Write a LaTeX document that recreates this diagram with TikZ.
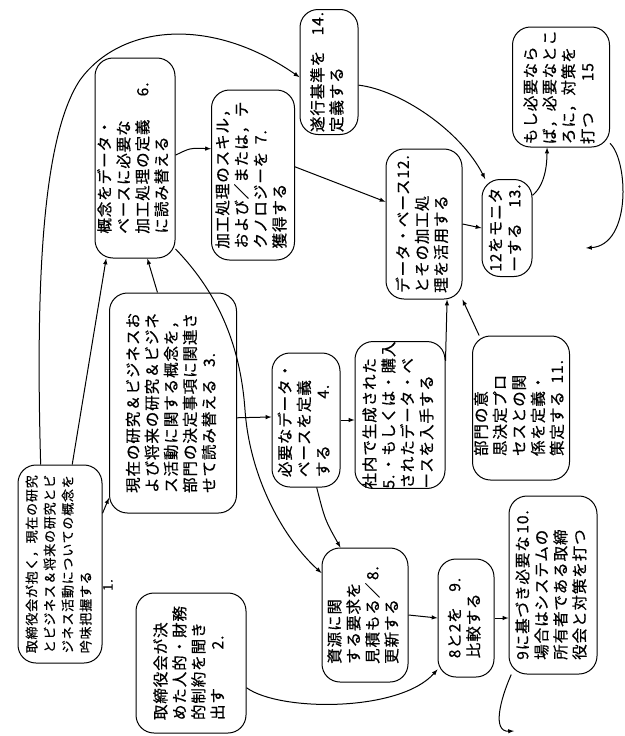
\documentclass[tikz,border=0pt]{standalone}
\usepackage{fontspec}
\usepackage{graphicx}
\newfontfamily\jp[LetterSpace=6, FakeBold=0.6]{Noto Sans CJK JP}
\newcommand{\vlines}[1]{\rotatebox{90}{\begin{tabular}{@{}l@{}}#1\end{tabular}}}

\begin{document}
\begin{tikzpicture}[x=1pt, y=-1pt, >=latex, line width=1pt,
    blob/.style={draw, rounded corners=18pt, inner sep=0pt, font=\jp\fontsize{15.5}{19}\selectfont}]
  \useasboundingbox (0,0) rectangle (624,736);

  % boxes, left to right as the sheet lies
  \node [blob, font=\jp\fontsize{13}{18}\selectfont, minimum width=84, minimum height=198] (n1) at (60,564) {\vlines{取締役会が抱く，現在の研究\\とビジネス＆将来の研究とビ\\ジネス活動についての概念を\\吟味把握する}};
  \node [font=\jp\fontsize{13}{18}\selectfont, rotate=90] (l1) at (108,585) {1.};
  \node [blob, minimum width=110, minimum height=140] (n2) at (191,663) {\vlines{取締役会が決\\めた人的・財務\\的制約を聞き\\出す\hspace{2.5em}2.}};
  \node [blob, minimum width=127, minimum height=220] (n3) at (173,403) {\vlines{現在の研究＆ビジネスお\\よび将来の研究＆ビジネ\\ス活動に関する概念を，\\部門の決定事項に関連さ\\せて読み替える\hspace{0.8em}3.}};
  \node [blob, minimum width=68, minimum height=134] (n4) at (306,420) {\vlines{必要なデータ・\\ベースを定義\\する\hspace{3em}4.}};
  \node [blob, minimum width=90, minimum height=138] (n5) at (400,415) {\vlines{社内で生成された\\5.\,・もしくは・購入\\されたデータ・ベ\\ースを入手する}};
  \node [blob, minimum width=80, minimum height=200] (n6) at (135,158) {\vlines{概念をデータ・\\ベースに必要な\\加工処理の定義\hspace{1.5em}6.\\に読み替える}};
  \node [blob, minimum width=83, minimum height=170] (n7) at (253,175) {\vlines{加工処理のスキル，\\および／または，テ\\クノロジーを\hspace{0.5em}7.\\獲得する}};
  \node [blob, minimum width=86, minimum height=134] (n8) at (365,615) {\vlines{資源に関\\する要求を\\見積もる／\,8.\\更新する}};
  \node [blob, minimum width=56, minimum height=118] (n9) at (466,618) {\vlines{8と2を\hspace{1em}9.\\比較する}};
  \node [blob, minimum width=88, minimum height=178] (n10) at (553,585) {\vlines{9に基づき必要な\,10.\\場合はシステムの\\所有者である取締\\役会と対策を打つ}};
  \node [blob, minimum width=97, minimum height=144] (n11) at (521,408) {\vlines{部門の意\\思決定プロ\\セスとの関\\係を定義・\\策定する\hspace{0.5em}11.}};
  \node [blob, minimum width=76, minimum height=150] (n12) at (424,224) {\vlines{データ・ベース12.\\とその加工処\\理を活用する}};
  \node [blob, minimum width=50, minimum height=97] (n13) at (507,228) {\vlines{12をモニタ\\ーする\hspace{1em}13.}};
  \node [blob, minimum width=58, minimum height=125] (n14) at (329,72) {\vlines{遂行基準を\hspace{1em}14.\\定義する}};
  \node [blob, minimum width=97, minimum height=120] (n15) at (561,87) {\vlines{もし必要なら\\ば，必要なとこ\\ろに，対策を\\打つ\hspace{2em}15}};
  \coordinate (r15) at (586,248);
  \coordinate (r10) at (514,731);

  % arrows
  \draw [->] (n1.50) -- (n3.236);
  \draw [->] (n1.83) -- (n6.254);
  \draw [->] (n1.101) .. controls (36,300) and (40,140) .. (80,80) .. controls (120,25) and (210,15) .. (n14.190);
  \draw [->] (n3.98) -- (n6.-83);
  \draw [->] (n6.4) .. controls (190,148) .. (n7.148);
  \draw [->] (n6.-66) .. controls (215,290) and (240,340) .. (245,410) .. controls (250,480) and (285,540) .. (n8.136);
  \draw [->] (n3.-13) -- (n4.175);
  \draw [->] (n4.east) -- (n5.west |- n4.east);
  \draw [->] (n4.-81) .. controls (325,520) .. (n8.110);
  \draw [->] (n5.50) -- (n12.-73);
  \draw [->] (n11.120) -- (n12.-63);
  \draw [->] (n7.11) -- (n12.150);
  \draw [->] (n12.east) -- (n13.west);
  \draw [->] (n14.-24) .. controls (400,90) and (460,130) .. (n13.114);
  \draw [->] (n13.52) .. controls (545,185) and (547,165) .. (n15.-103);
  \draw [->] (n15.-49) .. controls (628,160) and (632,245) .. (r15);
  \draw [->] (n8.east) -- (n9.west);
  \draw [->] (n2.-24) .. controls (280,712) and (400,712) .. (n9.-119);
  \draw [->] (n9.east) -- (n10.west |- n9.east);
  \draw [->] (n10.245) .. controls (500,700) and (492,732) .. (r10);
\end{tikzpicture}
\end{document}
